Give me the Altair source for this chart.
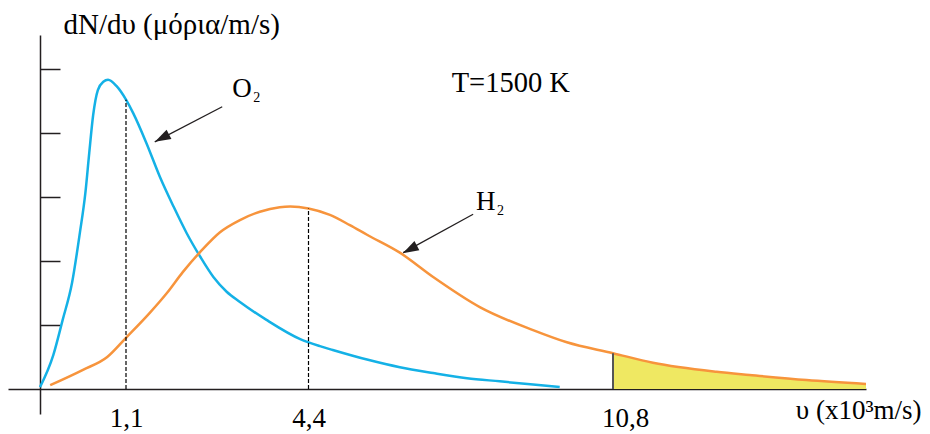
import altair as alt
import pandas as pd

# ---------------- data ----------------
# speed in 10^3 m/s  /  dN/dv in tick units
o2_v = [0.0, 0.17, 0.29, 0.41, 0.51, 0.58, 0.63, 0.68, 0.74, 0.81, 0.87, 0.98, 1.1,
        1.23, 1.47, 1.71, 1.96, 2.20, 2.44, 2.68, 2.92, 3.16, 3.64, 4.25, 4.64,
        4.91, 5.63, 6.32, 7.02, 7.73, 8.42, 9.12, 9.68]
o2_n = [0.03, 0.53, 1.08, 1.66, 2.44, 3.06, 3.69, 4.28, 4.67, 4.80, 4.83, 4.73, 4.52,
        4.31, 3.84, 3.32, 2.85, 2.43, 2.07, 1.75, 1.52, 1.36, 1.08, 0.78, 0.67,
        0.61, 0.46, 0.34, 0.25, 0.17, 0.12, 0.07, 0.03]

h2_v = [0.13, 0.55, 0.86, 1.1, 1.53, 1.84, 2.13, 2.44, 2.80, 3.16, 3.52, 3.88, 4.07,
        4.4, 4.85, 5.27, 5.63, 6.32, 7.02, 8.00, 9.12, 9.83, 10.8, 11.64, 12.98,
        13.67, 14.87, 16.12]
h2_n = [0.06, 0.30, 0.50, 0.80, 1.19, 1.50, 1.83, 2.14, 2.45, 2.64, 2.77, 2.84, 2.85,
        2.82, 2.72, 2.56, 2.41, 2.13, 1.75, 1.28, 0.92, 0.73, 0.56, 0.41, 0.27,
        0.22, 0.14, 0.08]

tick_values = [1.1, 4.4, 10.8]
y_ticks = [1, 2, 3, 4, 5]
most_probable = {"O2": 1.1, "H2": 4.4}
escape_v = 10.8

gas_labels = ["O", "H"]
gas_label_v = [3.02, 7.92]
gas_label_n = [4.56, 2.80]
arrow_start_v = [2.84, 7.86]
arrow_start_n = [4.41, 2.73]
arrow_tip_v = [1.62, 6.39]
arrow_tip_n = [3.86, 2.13]
arrow_head_v = [1.75, 6.53]
arrow_head_n = [3.92, 2.18]

temp_text = ["T=1500 K"]
temp_v = [7.41]
temp_n = [4.64]

x_domain = [-0.41, 0, 1.1, 4.4, 10.8, 16.12]
x_range = [0, 32, 118, 300.5, 605, 858]
y_domain = [-0.39, 5.53]

# ---------------- styling ----------------
FONT = "Liberation Serif"
BLUE = "#14B1E6"
ORANGE = "#F7943C"
YELLOW = "#EFE862"
INK = "#231F20"

# ---------------- tables ----------------
curves = pd.concat([
    pd.DataFrame({"v": o2_v, "n": o2_n, "gas": "O2"}),
    pd.DataFrame({"v": h2_v, "n": h2_n, "gas": "H2"}),
], ignore_index=True)

h2 = pd.DataFrame({"v": h2_v, "n": h2_n})
tail = h2[h2["v"] >= escape_v]

o2_lookup = dict(zip(o2_v, o2_n))
h2_lookup = dict(zip(h2_v, h2_n))
dashed = pd.DataFrame({
    "v": [most_probable["O2"], most_probable["H2"]],
    "n": [0, 0],
    "n2": [o2_lookup[most_probable["O2"]], h2_lookup[most_probable["H2"]]],
})
escape = pd.DataFrame({"v": [escape_v], "n": [0], "n2": [h2_lookup[escape_v]]})

arrows = pd.DataFrame({
    "v": arrow_start_v, "n": arrow_start_n,
    "v2": arrow_tip_v, "n2": arrow_tip_n,
})
heads = pd.DataFrame({"v": arrow_head_v, "n": arrow_head_n})
labels = pd.DataFrame({"v": gas_label_v, "n": gas_label_n, "t": gas_labels})
temp = pd.DataFrame({"v": temp_v, "n": temp_n, "t": temp_text})

x_scale = alt.Scale(domain=x_domain, range=x_range, nice=False, zero=False)
y_scale = alt.Scale(domain=y_domain, nice=False, zero=False)

x_axis = alt.Axis(
    orient="bottom", offset=-25, values=tick_values, ticks=False, tickSize=0,
    grid=False, domainColor=INK, domainWidth=1.5,
    labelExpr="replace(format(datum.value, '.1f'), '.', ',')",
    labelFont=FONT, labelFontSize=27, labelColor="black",
    labelBaseline="alphabetic", labelPadding=37, labelFlush=False, labelOverlap=False,
    labelOffset={"condition": {"test": "datum.value > 10", "value": 12}, "value": 0},
    title="υ (x10³m/s)", titleFont=FONT, titleFontSize=27, titleFontWeight="normal",
    titleColor="black", titleAlign="right", titleBaseline="alphabetic",
    titleX=913, titleY=29, titleAngle=0,
)
y_axis = alt.Axis(
    orient="right", offset=-826, values=y_ticks, labels=False, tickSize=20,
    tickColor=INK, tickWidth=1.5, grid=False, domainColor=INK, domainWidth=1.5,
    title="dN/dυ (μόρια/m/s)", titleFont=FONT, titleFontSize=29,
    titleFontWeight="normal", titleColor="black", titleAngle=0,
    titleAlign="left", titleBaseline="alphabetic", titleX=23, titleY=-2,
)

area = alt.Chart(tail).mark_area(color=YELLOW, opacity=1, interpolate="monotone").encode(
    x=alt.X("v:Q", scale=x_scale, axis=x_axis),
    y=alt.Y("n:Q", scale=y_scale, axis=y_axis),
    y2=alt.datum(0),
)

lines = alt.Chart(curves).mark_line(strokeWidth=2.5, interpolate="monotone").encode(
    x=alt.X("v:Q", scale=x_scale),
    y=alt.Y("n:Q", scale=y_scale),
    color=alt.Color("gas:N", scale=alt.Scale(domain=["O2", "H2"], range=[BLUE, ORANGE]),
                    legend=None),
    detail="gas:N",
)

dash_rules = alt.Chart(dashed).mark_rule(color="#000000", strokeWidth=1.2, strokeDash=[4, 2]).encode(
    x="v:Q", y="n:Q", y2="n2:Q",
)

escape_rule = alt.Chart(escape).mark_rule(color="#555555", strokeWidth=2).encode(
    x="v:Q", y="n:Q", y2="n2:Q",
)

arrow_lines = alt.Chart(arrows).mark_rule(color=INK, strokeWidth=1.3).encode(
    x="v:Q", y="n:Q", x2="v2:Q", y2="n2:Q",
)

arrow_heads = alt.Chart(heads).mark_point(
    shape="M0,-1L0.65,1L-0.65,1Z", filled=True, size=256, angle=242,
    color=INK, opacity=1, strokeWidth=0,
).encode(x="v:Q", y="n:Q")

gas_text = alt.Chart(labels).mark_text(
    font=FONT, fontSize=27, align="left", baseline="alphabetic", color="black",
).encode(x="v:Q", y="n:Q", text="t:N")

gas_sub = alt.Chart(labels).mark_text(
    font=FONT, fontSize=14, align="left", baseline="alphabetic", color="black",
    text="2", dx=21, dy=5,
).encode(x="v:Q", y="n:Q")

temp_label = alt.Chart(temp).mark_text(
    font=FONT, fontSize=28.5, align="left", baseline="alphabetic", color="black",
).encode(x="v:Q", y="n:Q", text="t:N")

chart = alt.layer(
    area, lines, dash_rules, escape_rule, arrow_lines, arrow_heads,
    gas_text, gas_sub, temp_label,
).properties(
    width=858, height=379,
    autosize=alt.AutoSizeParams(type="none"),
    padding={"left": 0, "top": 27, "right": 56, "bottom": 20},
    background="white",
).configure_view(strokeWidth=0)

chart.save("out.html", embed_options={"renderer": "svg", "actions": False})
